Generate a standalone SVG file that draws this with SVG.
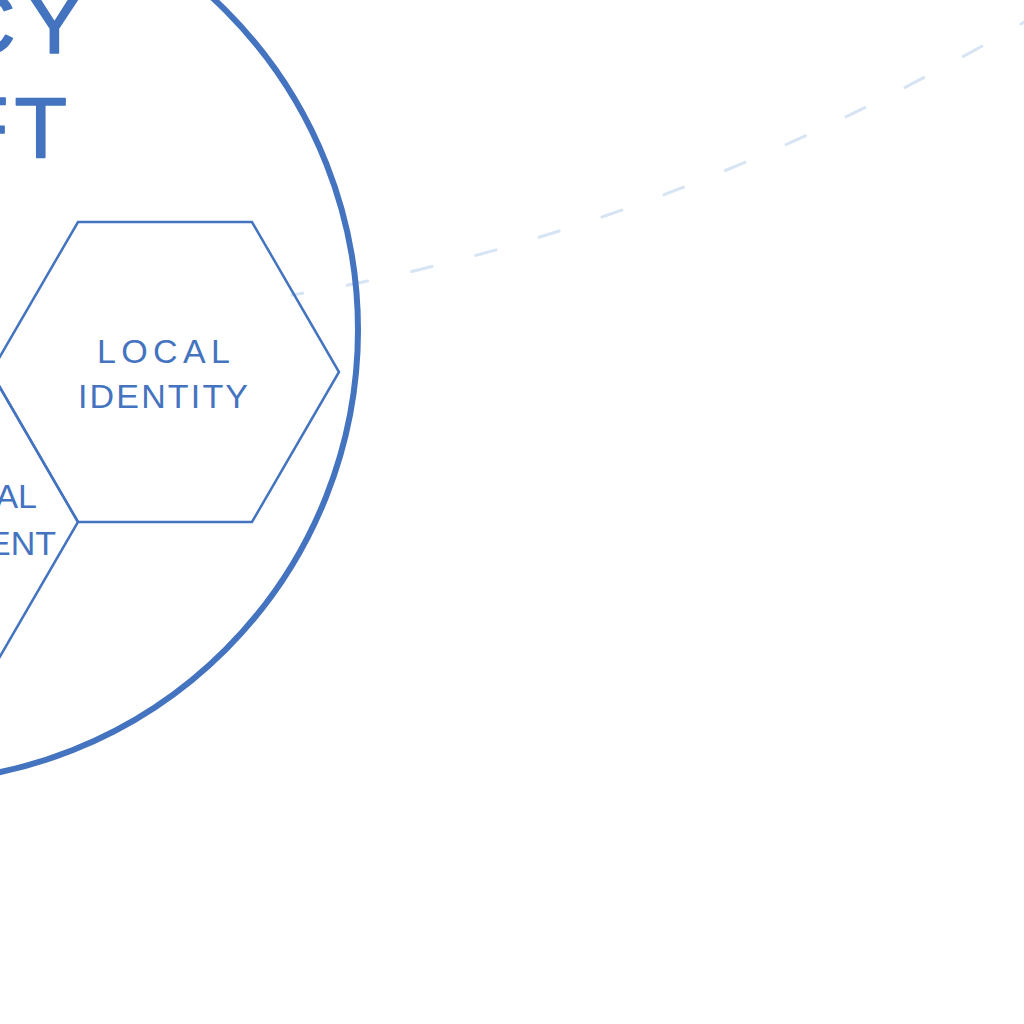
<svg xmlns="http://www.w3.org/2000/svg" width="1024" height="1024" viewBox="0 0 1024 1024">
  <style>
    .bg { fill: #ffffff; }
    .boundary { fill: none; stroke: #4473bf; stroke-width: 6; }
    .hex { fill: none; stroke: #4473bf; stroke-width: 2.5; stroke-linejoin: miter; }
    .title { font-family: "Liberation Sans", Arial, sans-serif; font-size: 86px; fill: #4473bf; stroke: #4473bf; stroke-width: 1.6; stroke-linejoin: round; }
    .label { font-family: "Liberation Sans", Arial, sans-serif; font-size: 34px; fill: #4473bf; }
    .dash { fill: none; stroke: #d6e4f3; stroke-width: 3; stroke-dasharray: 21 45; stroke-dashoffset: 10; stroke-linecap: round; }
  </style>
  <rect class="bg" x="0" y="0" width="1024" height="1024"/>
  <g id="connectors">
    <path class="dash" d="M292,295 Q665,234.4 1040,12.8"/>
  </g>
  <g id="node-neighbor">
    <polygon class="hex" points="-9,372 78,522 -9,672 -183,672 -270,522 -183,372"/>
    <text class="label" x="37" y="508" text-anchor="end">AL</text>
    <text class="label" x="56" y="555" text-anchor="end">ENT</text>
  </g>
  <g id="node-local-identity">
    <polygon class="hex" points="78,222 252,222 339,372 252,522 78,522 -9,372"/>
    <text class="label" x="97" y="363" textLength="133" lengthAdjust="spacing">LOCAL</text>
    <text class="label" x="78" y="408" textLength="170" lengthAdjust="spacing">IDENTITY</text>
  </g>
  <g id="node-boundary">
    <circle class="boundary" cx="-94" cy="330" r="452"/>
    <text class="title" x="83" y="53" text-anchor="end">C<tspan dx="10">Y</tspan></text>
    <text class="title" x="67" y="157" text-anchor="end">F<tspan dx="6">T</tspan></text>
  </g>
</svg>
